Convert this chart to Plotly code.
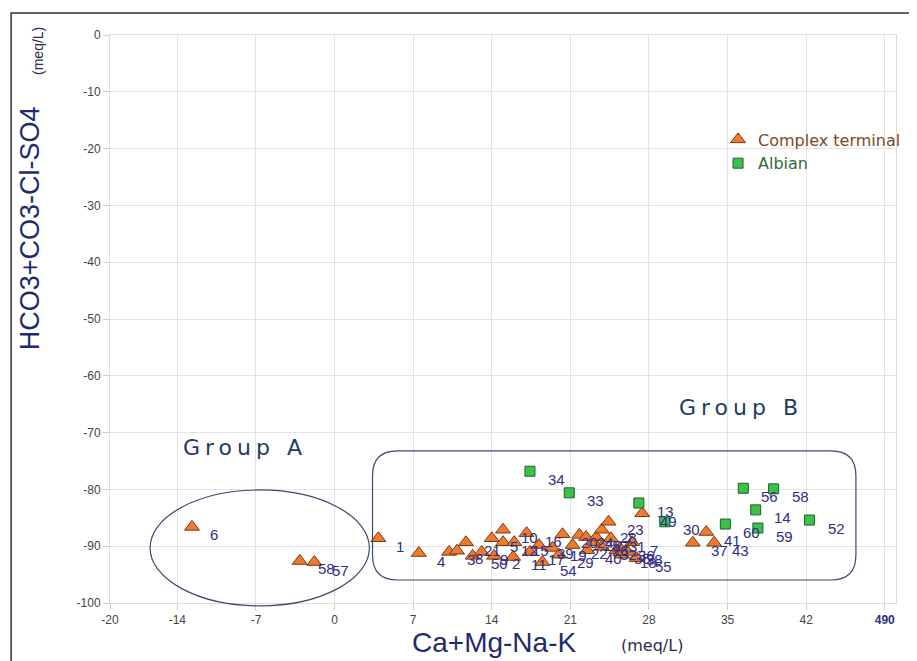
import plotly.graph_objects as go

# ---- data ----
ct_x = [-12.7, -3.1, -1.8, 3.9, 7.5, 10.2, 10.9, 11.7, 12.3, 13.1, 14.0, 14.2, 15.0, 15.0,
        16.0, 15.9, 17.1, 17.4, 18.5, 19.4, 20.0, 20.3, 21.2, 21.8, 22.4, 23.1, 23.3, 23.8,
        24.4, 24.6, 23.8, 25.1, 25.4, 25.6, 26.5, 26.9, 27.4, 26.1, 31.9, 33.1, 33.8, 18.2, 22.5]
ct_y = [-86.6, -92.6, -92.8, -88.6, -91.2, -91.0, -90.8, -89.3, -91.7, -91.0, -88.6, -91.7, -87.1, -89.3,
        -89.3, -91.9, -87.7, -91.0, -92.8, -90.3, -91.5, -87.9, -89.8, -88.0, -88.4, -89.3, -88.4, -87.1,
        -85.7, -88.6, -90.1, -90.7, -90.3, -91.5, -89.3, -92.1, -84.2, -91.0, -89.4, -87.5, -89.4, -89.8, -90.7]
ct_lab = ["6", "58", "57", "1", "4", "3", "8", "21", "50", "9", "5", "2", "10", "12",
          "15", "11", "16", "17", "54", "19", "29", "20", "22", "24", "25", "26", "27", "28",
          "23", "31", "32", "35", "36", "18", "7", "55", "49", "38", "37", "41", "43", "39", "40"]

al_x = [17.4, 20.9, 27.1, 29.4, 36.4, 39.1, 37.5, 34.8, 37.7, 42.3]
al_y = [-76.8, -80.6, -82.4, -85.7, -79.8, -79.9, -83.6, -86.1, -86.8, -85.4]
al_lab = ["34", "33", "13", "30", "56", "58", "14", "60", "59", "52"]

x_ticks = [-20, -14, -7, 0, 7, 14, 21, 28, 35, 42, 49]
x_tick_text = ["-20", "-14", "-7", "0", "7", "14", "21", "28", "35", "42",
               "<span style='color:#2E2E80'><b>490</b></span>"]
y_ticks = [0, -10, -20, -30, -40, -50, -60, -70, -80, -90, -100]
y_tick_text = ["0", "-10", "-20", "-30", "-40", "-50", "-60", "-70", "-80", "-90", "-100"]

LABEL_COLOR = "#2E2E86"
NAVY = "#1F2B6E"
FONT = "Liberation Sans, Arial"

fig = go.Figure()
fig.add_trace(go.Scatter(
    x=ct_x, y=ct_y, mode="markers",
    name="<span style='color:#7A4A24'>Complex terminal</span>",
    marker=dict(symbol="triangle-up", size=13, color="#EF7A2C",
                line=dict(color="#7A3A10", width=1))))
fig.add_trace(go.Scatter(
    x=al_x, y=al_y, mode="markers",
    name="<span style='color:#2F6B3A'>Albian</span>",
    marker=dict(symbol="square", size=10, color="#3CC24B",
                line=dict(color="#1E5E28", width=1))))

annotations = []
for xs, ys, labs in ((ct_x, ct_y, ct_lab), (al_x, al_y, al_lab)):
    for xv, yv, lb in zip(xs, ys, labs):
        annotations.append(dict(
            x=xv, y=yv, xref="x", yref="y", text=lb, showarrow=False,
            xanchor="left", yanchor="middle", xshift=16, yshift=-8,
            font=dict(family=FONT, size=15, color=LABEL_COLOR)))

annotations += [
    dict(x=-8.0, y=-72.7, xref="x", yref="y", showarrow=False,
         xanchor="center", yanchor="middle",
         text="<span style='letter-spacing:5px'>Group A</span>",
         font=dict(family="DejaVu Sans", size=22, color="#1F3A68")),
    dict(x=36.2, y=-65.5, xref="x", yref="y", showarrow=False,
         xanchor="center", yanchor="middle",
         text="<span style='letter-spacing:5px'>Group B</span>",
         font=dict(family="DejaVu Sans", size=22, color="#1F3A68")),
    dict(x=-0.1017, y=0.660, xref="paper", yref="paper", showarrow=False,
         xanchor="center", yanchor="middle",
         text="HCO3+CO3-Cl-SO4", textangle=-90,
         font=dict(family=FONT, size=27, color=NAVY)),
    dict(x=-0.0915, y=0.972, xref="paper", yref="paper", showarrow=False,
         xanchor="center", yanchor="middle",
         text="(meq/L)", textangle=-90,
         font=dict(family=FONT, size=14, color="#2A2A50")),
    dict(x=0.488, y=-0.0687, xref="paper", yref="paper", showarrow=False,
         xanchor="center", yanchor="middle",
         text="Ca+Mg-Na-K",
         font=dict(family=FONT, size=28, color=NAVY)),
    dict(x=0.689, y=-0.0740, xref="paper", yref="paper", showarrow=False,
         xanchor="center", yanchor="middle",
         text="(meq/L)",
         font=dict(family="DejaVu Sans", size=16, color="#2A2A50")),
]

x0, x1, yt, yb, rx, ry = 0.334, 0.949, 0.268, 0.0405, 0.0318, 0.044
rr_path = (f"M {x0+rx},{yt} L {x1-rx},{yt} Q {x1},{yt} {x1},{yt-ry} "
           f"L {x1},{yb+ry} Q {x1},{yb} {x1-rx},{yb} "
           f"L {x0+rx},{yb} Q {x0},{yb} {x0},{yb+ry} "
           f"L {x0},{yt-ry} Q {x0},{yt} {x0+rx},{yt} Z")

shapes = [
    dict(type="circle", xref="paper", yref="paper", x0=0.051, x1=0.330, y0=-0.005, y1=0.199,
         line=dict(color="#3B4A6B", width=1.2)),
    dict(type="path", xref="paper", yref="paper", path=rr_path,
         line=dict(color="#3B4A6B", width=1.2)),
    dict(type="rect", xref="paper", yref="paper", x0=-0.1258, x1=1.05, y0=-0.2, y1=1.0387,
         line=dict(color="#333333", width=1.5)),
]

axis_common = dict(showgrid=True, gridcolor="#E4E4E4", gridwidth=1, zeroline=False,
                   showline=True, linecolor="#DDDDDD", mirror=True,
                   ticks="outside", ticklen=6, tickcolor="#CCCCCC",
                   tickfont=dict(family=FONT, size=12, color="#444444"))

# page has an 8px body margin: plot area ends up at x 110-897, y 35-603 of the window
fig.update_layout(
    width=909, height=653,
    margin=dict(l=102, r=20, t=27, b=58),
    paper_bgcolor="white", plot_bgcolor="white",
    xaxis=dict(range=[-20, 50], tickmode="array", tickvals=x_ticks, ticktext=x_tick_text,
               **axis_common),
    yaxis=dict(range=[-100, 0], tickmode="array", tickvals=y_ticks, ticktext=y_tick_text,
               **axis_common),
    legend=dict(x=0.7726, y=0.846, xanchor="left", yanchor="top", bgcolor="rgba(0,0,0,0)",
                font=dict(family="DejaVu Sans", size=16), tracegroupgap=0),
    showlegend=True,
    annotations=annotations,
    shapes=shapes,
)

fig.write_html("out.html")
